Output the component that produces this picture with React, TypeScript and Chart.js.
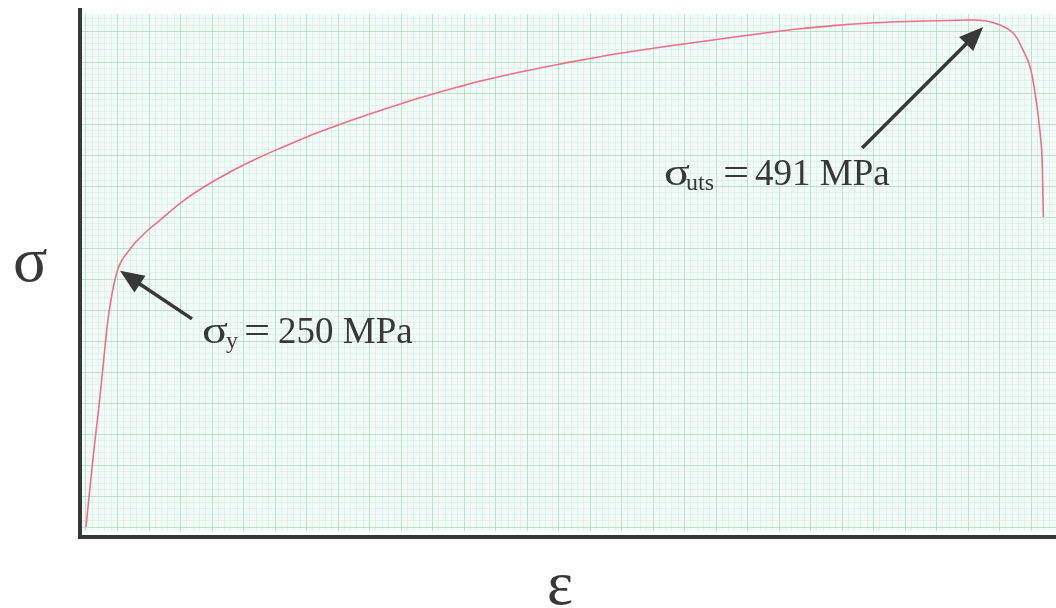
import React, { useEffect, useRef } from "react";
import { Chart, registerables } from "chart.js";

Chart.register(...registerables);

// Engineering strain (%) and engineering stress (MPa)
const strain = [
  0, 0.16, 0.36, 0.52, 0.63, 0.75, 0.87, 0.99, 1.11, 1.27,
  1.43, 1.63, 1.94, 2.42, 2.94, 3.85, 4.84, 5.83, 6.83, 7.82,
  8.81, 9.8, 10.79, 11.79, 12.78, 13.77, 14.76, 15.75, 17.42, 19.09,
  20.4, 21.71, 23.06, 24.37, 25.67, 27.02, 28.33, 29.64, 30.99, 32.3,
  34.29, 35.08, 35.67, 36.27, 36.79, 37.18, 37.46, 37.66, 37.79, 37.92,
  37.96, 37.99,
];
const stress = [
  0, 38.7, 84.3, 118.1, 144.3, 173.3, 200.5, 219.8, 235.3, 250,
  258.6, 265.3, 275.0, 286.7, 297.3, 315.7, 331.7, 345.3, 357.4, 368.0,
  378.2, 387.4, 396.1, 404.3, 412.1, 419.3, 426.1, 432.4, 441.6, 449.7,
  455.5, 460.7, 465.6, 469.9, 474.3, 478.7, 482.5, 485.6, 487.9, 489.3,
  490.6, 491.0, 490.3, 486.2, 478.4, 461.9, 445.5, 420.3, 397.1, 365.1,
  333.1, 300.2,
];

const yieldStrain = 1.27;
const yieldStress = 250;
const utsStrain = 35.6;
const utsStress = 491;

const yieldLabel = { sym: "σ", sub: "y", eq: "=", val: "250 MPa" };
const utsLabel = { sym: "σ", sub: "uts", eq: "=", val: "491 MPa" };
const yAxisSymbol = "σ";
const xAxisSymbol = "ε";

const X_MIN = -0.238;
const X_MAX = 38.49;
const Y_MIN = -9.68;
const Y_MAX = 500.7;
const X_GRID_STEP = 0.25;
const Y_GRID_STEP = 6;

const PAPER = "#f3fbf9";
const GRID_MINOR = "rgba(185, 228, 208, 0.32)";
const GRID_MAJOR = "rgba(150, 210, 172, 0.6)";
const INK = "#383838";
const CURVE = "#ef6f86";
const SERIF = "'Liberation Serif', 'DejaVu Serif', serif";

function drawArrow(ctx: CanvasRenderingContext2D, x1: number, y1: number, x2: number, y2: number) {
  const ang = Math.atan2(y2 - y1, x2 - x1);
  const headLen = 24;
  const headHalf = 10;
  const bx = x2 - Math.cos(ang) * headLen;
  const by = y2 - Math.sin(ang) * headLen;
  ctx.save();
  ctx.strokeStyle = INK;
  ctx.fillStyle = INK;
  ctx.lineWidth = 3.5;
  ctx.beginPath();
  ctx.moveTo(x1, y1);
  ctx.lineTo(bx + Math.cos(ang) * 2, by + Math.sin(ang) * 2);
  ctx.stroke();
  ctx.beginPath();
  ctx.moveTo(x2, y2);
  ctx.lineTo(bx + Math.sin(ang) * headHalf, by - Math.cos(ang) * headHalf);
  ctx.lineTo(bx - Math.sin(ang) * headHalf, by + Math.cos(ang) * headHalf);
  ctx.closePath();
  ctx.fill();
  ctx.restore();
}

function drawLabel(
  ctx: CanvasRenderingContext2D,
  lab: { sym: string; sub: string; eq: string; val: string },
  x: number,
  base: number,
  subX: number,
  eqX: number,
  valX: number
) {
  ctx.save();
  ctx.fillStyle = INK;
  ctx.textBaseline = "alphabetic";
  ctx.textAlign = "left";
  ctx.save();
  ctx.translate(x, base);
  ctx.scale(1.3, 1);
  ctx.font = `37px ${SERIF}`;
  ctx.fillText(lab.sym, 0, 0);
  ctx.restore();
  ctx.font = `24px ${SERIF}`;
  ctx.fillText(lab.sub, subX, base + 5);
  ctx.save();
  ctx.translate(eqX, base);
  ctx.scale(1.25, 1);
  ctx.font = `37px ${SERIF}`;
  ctx.fillText(lab.eq, 0, 0);
  ctx.restore();
  ctx.font = `37px ${SERIF}`;
  ctx.fillText(lab.val, valX, base);
  ctx.restore();
}

const paperPlugin = {
  id: "paper",
  beforeDraw(chart: any) {
    const { ctx, chartArea } = chart;
    ctx.save();
    ctx.fillStyle = "#ffffff";
    ctx.fillRect(0, 0, chart.width, chart.height);
    ctx.fillStyle = PAPER;
    ctx.fillRect(chartArea.left, chartArea.top + 4, chartArea.right - chartArea.left, chartArea.bottom - chartArea.top - 10);
    ctx.restore();
  },
  beforeDatasetsDraw(chart: any) {
    const { ctx, chartArea } = chart;
    ctx.save();
    ctx.fillStyle = "#ffffff";
    ctx.fillRect(chartArea.left + 2, chartArea.top, chartArea.right - chartArea.left, 4);
    ctx.fillRect(chartArea.left + 2, chartArea.bottom - 6, chartArea.right - chartArea.left, 4);
    ctx.restore();
  },
};

const annotationPlugin = {
  id: "annotations",
  afterDatasetsDraw(chart: any) {
    const { ctx } = chart;
    const xs = chart.scales.x;
    const ys = chart.scales.y;

    const yx = xs.getPixelForValue(yieldStrain);
    const yy = ys.getPixelForValue(yieldStress);
    drawArrow(ctx, yx + 74, yy + 50, yx + 2, yy + 2);

    const ux = xs.getPixelForValue(utsStrain);
    const uy = ys.getPixelForValue(utsStress);
    drawArrow(ctx, ux - 121, uy + 128, ux, uy + 7);

    drawLabel(ctx, yieldLabel, 202, 343, 226, 244, 278);
    drawLabel(ctx, utsLabel, 664, 185, 686, 723, 755);

    ctx.save();
    ctx.fillStyle = INK;
    ctx.textAlign = "left";
    ctx.textBaseline = "alphabetic";
    ctx.font = `64px ${SERIF}`;
    ctx.fillText(yAxisSymbol, 13, 281);
    ctx.font = `62px ${SERIF}`;
    ctx.fillText(xAxisSymbol, 547, 604);
    ctx.restore();
  },
};

function buildTicks(min: number, max: number, step: number) {
  const out: { value: number }[] = [];
  const start = Math.ceil(min / step);
  const end = Math.floor(max / step);
  for (let k = start; k <= end; k++) out.push({ value: k * step });
  return out;
}

export default function App() {
  const ref = useRef<HTMLCanvasElement | null>(null);

  useEffect(() => {
    if (!ref.current) return;
    const data = strain.map((s, i) => ({ x: s, y: stress[i] }));
    const chart = new Chart(ref.current, {
      type: "scatter",
      data: {
        datasets: [
          {
            data,
            showLine: true,
            borderColor: CURVE,
            borderWidth: 1.6,
            pointRadius: 0,
            tension: 0.4,
            fill: false,
          } as any,
        ],
      },
      plugins: [paperPlugin, annotationPlugin],
      options: {
        animation: false,
        responsive: false,
        events: [],
        layout: { padding: { left: 80, top: 10, right: 0, bottom: 71 } },
        plugins: {
          legend: { display: false },
          tooltip: { enabled: false },
          title: { display: false },
        },
        scales: {
          x: {
            type: "linear",
            min: X_MIN,
            max: X_MAX,
            afterBuildTicks: (scale: any) => {
              scale.ticks = buildTicks(0, X_MAX, X_GRID_STEP);
            },
            ticks: { display: false },
            grid: {
              drawTicks: false,
              lineWidth: 1,
              color: (c: any) =>
                c.tick && Math.round(c.tick.value / X_GRID_STEP) % 5 === 0 ? GRID_MAJOR : GRID_MINOR,
            },
            border: { display: true, color: INK, width: 4 },
          },
          y: {
            type: "linear",
            min: Y_MIN,
            max: Y_MAX,
            afterBuildTicks: (scale: any) => {
              scale.ticks = buildTicks(0, Y_MAX, Y_GRID_STEP);
            },
            ticks: { display: false },
            grid: {
              drawTicks: false,
              lineWidth: 1,
              color: (c: any) =>
                c.tick && Math.round(c.tick.value / Y_GRID_STEP) % 5 === 0 ? GRID_MAJOR : GRID_MINOR,
            },
            border: { display: true, color: INK, width: 4 },
          },
        },
      } as any,
    });
    return () => chart.destroy();
  }, []);

  return (
    <div style={{ position: "absolute", left: 0, top: 0, width: 1056, height: 608, background: "#fff" }}>
      <canvas ref={ref} width={1056} height={608} style={{ display: "block", width: 1056, height: 608 }} />
    </div>
  );
}
